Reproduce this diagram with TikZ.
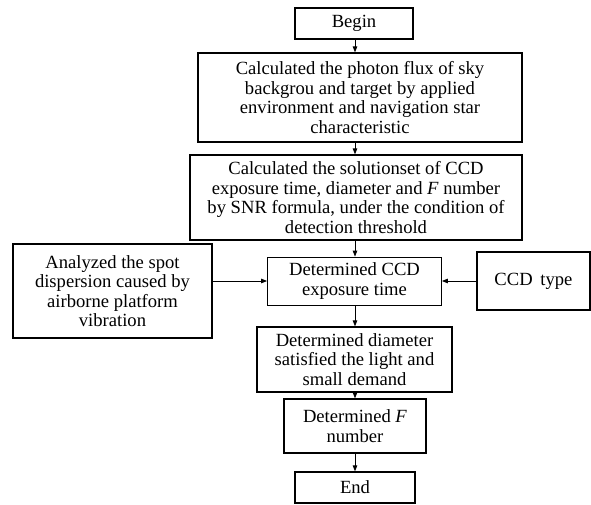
\documentclass[tikz,border=0pt]{standalone}
\usepackage{fontspec}
\setmainfont{Liberation Serif}
\usetikzlibrary{arrows.meta}
\begin{document}
\begin{tikzpicture}[x=1pt,y=1pt,
  box/.style={draw, line width=1.2pt, align=center, inner sep=0pt,
    font=\fontsize{18.6}{19.5}\selectfont},
  arr/.style={line width=0.9pt, -{Triangle[length=6pt,width=4.5pt]}}]
\useasboundingbox (0,0) rectangle (591,505);
\coordinate (ax) at (355,0);
\node[box, minimum width=118, minimum height=31] (begin) at (354,481.5) {Begin};
\node[box, minimum width=324, minimum height=89] (flux) at (360,407.5)
  {Calculated the photon flux of sky\\backgrou and target by applied\\environment and navigation star\\characteristic};
\node[box, minimum width=332, minimum height=85] (sol) at (356,307.5)
  {Calculated the solutionset of CCD\\exposure time, diameter and \textit{F} number\\by SNR formula, under the condition of\\detection threshold};
\node[box, minimum width=199, minimum height=94] (spot) at (112.5,214)
  {Analyzed the spot\\dispersion caused by\\airborne platform\\vibration};
\node[box, line width=0.8pt, minimum width=174, minimum height=48] (exp) at (354.5,224)
  {Determined CCD\\exposure time};
\node[box, minimum width=113, minimum height=58] (ccd) at (533.5,224) {CCD\, type};
\node[box, minimum width=195, minimum height=65] (diam) at (354.5,145.5)
  {Determined diameter\\satisfied the light and\\small demand};
\node[box, minimum width=142, minimum height=54] (fnum) at (355,79)
  {Determined \textit{F}\\number};
\node[box, minimum width=120, minimum height=31] (end) at (355,17.5) {End};
\draw[arr] (begin.south -| ax) -- (flux.north -| ax);
\draw[arr] (flux.south -| ax) -- (sol.north -| ax);
\draw[arr] (sol.south -| ax) -- (exp.north -| ax);
\draw[arr] (spot.east |- exp.west) -- (exp.west);
\draw[arr] (ccd.west |- exp.east) -- (exp.east);
\draw[arr] (exp.south -| ax) -- (diam.north -| ax);
\draw[arr] (diam.south -| ax) -- (fnum.north -| ax);
\draw[arr] (fnum.south -| ax) -- (end.north -| ax);
\end{tikzpicture}
\end{document}
